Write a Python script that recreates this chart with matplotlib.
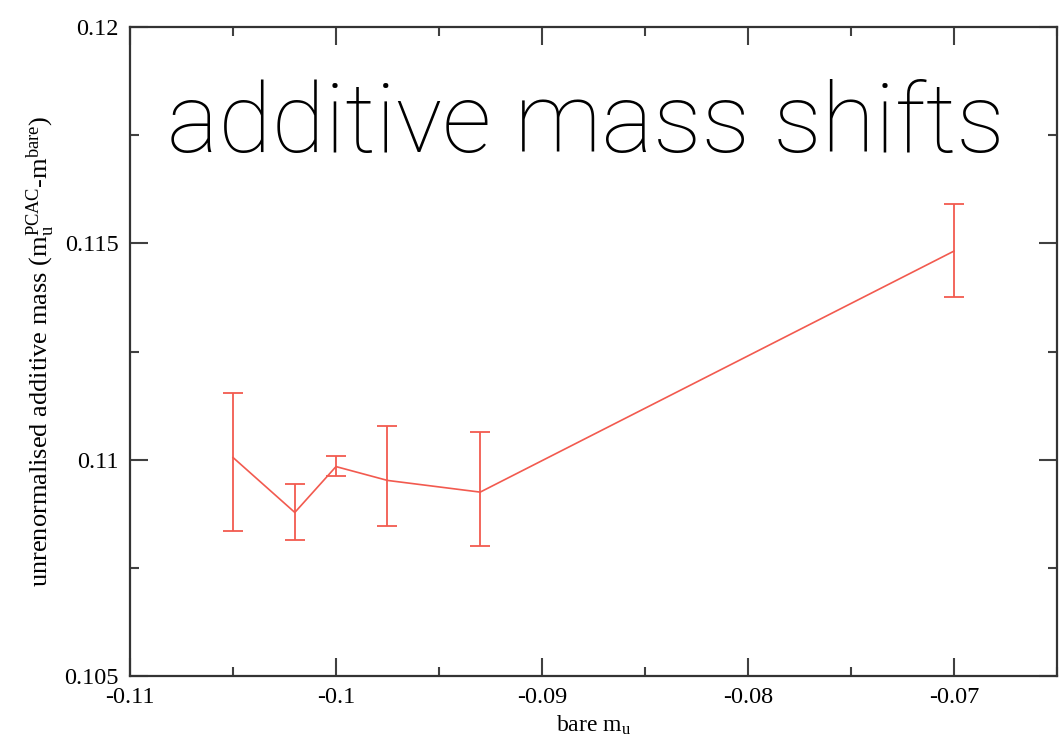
import matplotlib
matplotlib.use("Agg")
import matplotlib.pyplot as plt
from matplotlib.ticker import MultipleLocator

# bare quark mass vs unrenormalised additive mass shift, with error bars
m_bare = [-0.105, -0.102, -0.100, -0.0975, -0.093, -0.070]
m_add = [0.11005, 0.10878, 0.10984, 0.10952, 0.10925, 0.11482]
err_lo = [0.00170, 0.00064, 0.00022, 0.00105, 0.00124, 0.00106]
err_hi = [0.00148, 0.00066, 0.00025, 0.00125, 0.00138, 0.00109]

plt.rcParams['font.family'] = ['Liberation Serif', 'DejaVu Serif']
plt.rcParams['mathtext.fontset'] = 'custom'
plt.rcParams['mathtext.rm'] = 'Liberation Serif'
plt.rcParams['mathtext.it'] = 'Liberation Serif'

fig = plt.figure(figsize=(10.59, 7.40), dpi=100)
ax = fig.add_axes([0.1228, 0.0865, 0.8752, 0.877])

red = '#f25a4f'
ax.errorbar(m_bare, m_add, yerr=[err_lo, err_hi], color=red, lw=1.2,
            elinewidth=1.3, capsize=7, capthick=1.3)

ax.set_xlim(-0.11, -0.065)
ax.set_ylim(0.105, 0.12)
ax.xaxis.set_major_locator(MultipleLocator(0.01))
ax.xaxis.set_minor_locator(MultipleLocator(0.005))
ax.yaxis.set_major_locator(MultipleLocator(0.005))
ax.yaxis.set_minor_locator(MultipleLocator(0.0025))
ax.set_xticks([-0.11, -0.1, -0.09, -0.08, -0.07])
ax.set_xticklabels(['-0.11', '-0.1', '-0.09', '-0.08', '-0.07'])
ax.set_yticks([0.105, 0.11, 0.115, 0.12])
ax.set_yticklabels(['0.105', '0.11', '0.115', '0.12'])

ax.tick_params(which='both', direction='in', top=True, right=True,
               color='0.25', width=1.5, labelsize=17.5, pad=8)
ax.tick_params(which='major', length=13)
ax.tick_params(which='minor', length=6.5)
for s in ax.spines.values():
    s.set_linewidth(1.6)
    s.set_color('0.2')

ax.set_xlabel(r'bare m$_{\rm u}$', fontsize=17, labelpad=4)
ax.set_ylabel(r'unrenormalised additive mass (m$_{\rm u}^{\rm PCAC}$-m$^{\rm bare}$)',
              fontsize=19, labelpad=5)

fig.text(167 / 1059, 1 - 152 / 740, 'additive mass shifts', fontsize=70,
         family=['Roboto', 'DejaVu Sans'], fontweight='light', color='black',
         ha='left', va='baseline')

fig.savefig('out.png', dpi=100)
